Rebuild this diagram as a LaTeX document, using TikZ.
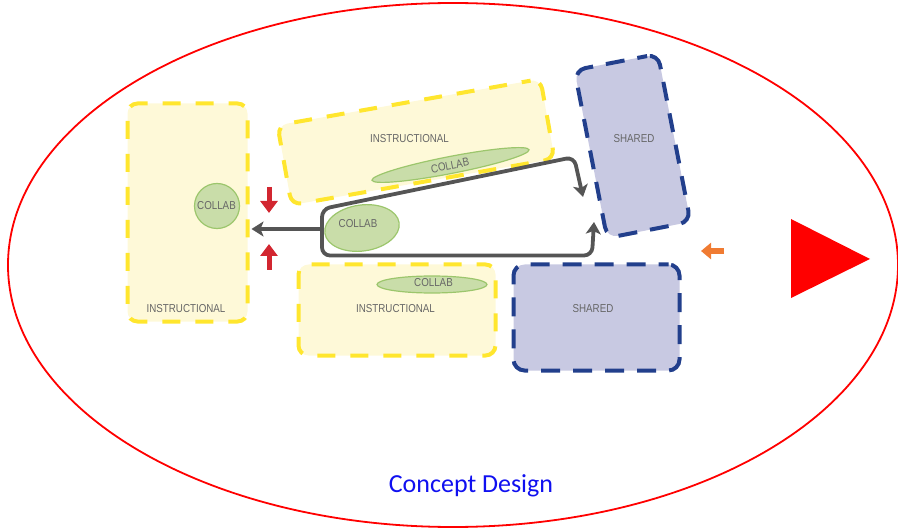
\documentclass[tikz,border=0pt]{standalone}
\usepackage{fontspec}
\newfontfamily\labelfont[FakeStretch=0.85]{Liberation Sans}
\newfontfamily\captionfont{Carlito}
\usetikzlibrary{arrows.meta,shapes.geometric}

\definecolor{instrline}{HTML}{FFE62E}
\definecolor{instrfill}{HTML}{FEF9D8}
\definecolor{sharedline}{HTML}{223F8C}
\definecolor{sharedfill}{HTML}{C8C9E2}
\definecolor{collabline}{HTML}{9CC66C}
\definecolor{collabfill}{HTML}{C9DDA9}
\definecolor{labelgray}{HTML}{666666}
\definecolor{flowgray}{HTML}{555555}
\definecolor{arrowred}{HTML}{D22630}
\definecolor{arroworange}{HTML}{F07B32}
\definecolor{captionblue}{HTML}{1010F0}

\tikzset{
  instr/.style={draw=instrline, fill=instrfill, line width=4pt,
    dash pattern=on 18pt off 15pt, dash phase=9pt, rounded corners=10pt, inner sep=0pt},
  sharedbox/.style={draw=sharedline, fill=sharedfill, line width=4pt,
    dash pattern=on 19pt off 13pt, dash phase=9pt, rounded corners=11pt, inner sep=0pt},
  collab/.style={ellipse, draw=collabline, fill=collabfill, line width=1.2pt, inner sep=0pt},
  lbl/.style={font=\labelfont\fontsize{11.5}{12}\selectfont, text=labelgray, inner sep=0pt},
  flow/.style={draw=flowgray, line width=3.8pt, rounded corners=8pt,
    -{Stealth[length=12pt,width=15pt,inset=3pt]}},
  blockarrow/.style={line width=5pt, -{Triangle[length=12pt,width=17pt]}},
}

\begin{document}
\begin{tikzpicture}[x=1pt,y=-1pt]
\useasboundingbox (0,0) rectangle (898,532);

% outer boundary
\node[ellipse, draw=red, line width=1.8pt, minimum width=890pt, minimum height=524pt, inner sep=0pt]
  (frame) at (453,265) {};

% instructional areas
\node[instr, minimum width=120pt, minimum height=218pt] (leftbox) at (187.5,212.5) {};
\node[instr, minimum width=267pt, minimum height=81pt, rotate=10] (topbox) at (416,142) {};
\node[instr, minimum width=197pt, minimum height=91pt] (midbox) at (397,310) {};

% shared areas
\node[sharedbox, minimum width=85pt, minimum height=171pt, rotate=11] (sharedtop) at (632.5,146) {};
\node[sharedbox, minimum width=166pt, minimum height=106pt] (sharedbot) at (596.5,317.5) {};

% collaboration zones
\node[collab, minimum width=45pt, minimum height=45pt] (collabL) at (217,206) {};
\node[collab, minimum width=160pt, minimum height=17pt, rotate=11] (collabT) at (450.5,165) {};
\node[collab, minimum width=110pt, minimum height=17pt] (collabB) at (432,284.5) {};

% flow loop
\coordinate (loopjoin) at (322,229);
\coordinate (tipT) at (583,197);
\coordinate (tipB) at (594,222);
\draw[flow] (loopjoin) -- (322,209) -- (574,157) -- (tipT);
\draw[flow] (loopjoin) -- (322,255.5) -- (592,255.5) -- (tipB);
\draw[flow, rounded corners=0pt, shorten >=2pt] (loopjoin) -- (loopjoin -| leftbox.east);

\node[collab, minimum width=75pt, minimum height=46pt, rotate=8] (collabM) at (362,228) {};

% labels
\node[lbl] (lblL) at (186,308.5) {INSTRUCTIONAL};
\node[lbl] (lblT) at (409.5,138.5) {INSTRUCTIONAL};
\node[lbl] (lblB) at (395.5,309) {INSTRUCTIONAL};
\node[lbl] (lblST) at (634,138.5) {SHARED};
\node[lbl] (lblSB) at (593,309) {SHARED};
\node[lbl] (lblCL) at (216.5,206) {COLLAB};
\node[lbl, rotate=11] (lblCT) at (450,165.5) {COLLAB};
\node[lbl] (lblCB) at (433.5,283) {COLLAB};
\node[lbl] (lblCM) at (358,224) {COLLAB};

% pressure arrows
\coordinate (redTa) at (269,187);
\coordinate (redTb) at (269,213);
\coordinate (redBa) at (269,270);
\coordinate (redBb) at (269,244);
\draw[blockarrow, draw=arrowred, fill=arrowred] (redTa) -- (redTb);
\draw[blockarrow, draw=arrowred, fill=arrowred] (redBa) -- (redBb);
\coordinate (orA) at (724,251);
\coordinate (orB) at (701,251);
\draw[draw=arroworange, line width=5.5pt, -{Triangle[length=10pt,width=16pt]}, arroworange] (orA) -- (orB);

% play marker
\fill[red] (791,219) -- (870,259) -- (791,298) -- cycle;

% caption
\node[font=\captionfont\fontsize{26}{30}\selectfont, text=captionblue, anchor=base, inner sep=0pt]
  (caption) at (471,492) {Concept Design};
\end{tikzpicture}
\end{document}
